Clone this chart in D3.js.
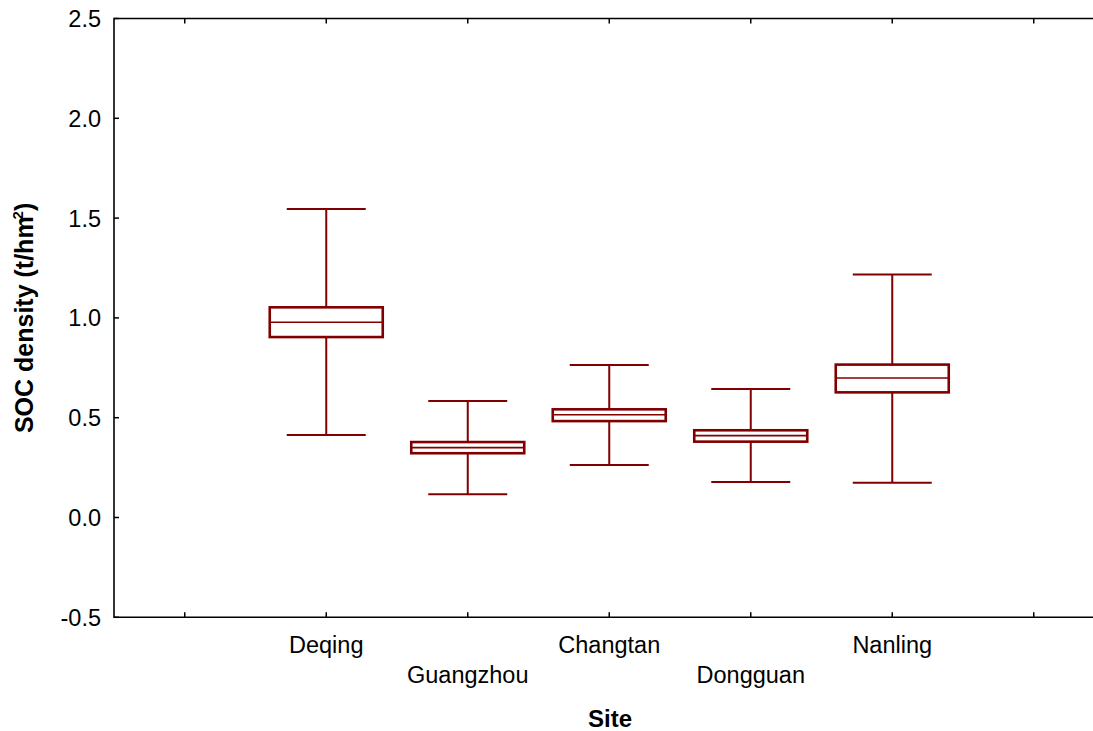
<!DOCTYPE html>
<html>
<head>
<meta charset="utf-8">
<script src="https://cdn.jsdelivr.net/npm/d3@7"></script>
<style>
  body { margin: 0; background: #fff; }
  svg { display: block; font-family: "Liberation Sans", Arial, sans-serif; }
  .box { fill: #fff; stroke: #800000; stroke-width: 2.6; }
  .med { stroke: #800000; stroke-width: 1.6; }
  .whisk { stroke: #800000; stroke-width: 2; }
  .frame { stroke: #000; stroke-width: 1.6; fill: none; }
</style>
</head>
<body>
<div id="chart"></div>
<script>
// per-site summary (SOC density, t/hm2)
var sites   = ['Deqing', 'Guangzhou', 'Changtan', 'Dongguan', 'Nanling'];
var whiskLo = [0.413, 0.116, 0.263, 0.178, 0.174];
var q1      = [0.904, 0.322, 0.483, 0.380, 0.627];
var median  = [0.978, 0.350, 0.515, 0.410, 0.699];
var q3      = [1.053, 0.378, 0.542, 0.437, 0.766];
var whiskHi = [1.546, 0.584, 0.764, 0.644, 1.218];
var yTicks  = [-0.5, 0, 0.5, 1.0, 1.5, 2.0, 2.5];
var xTicks  = [1, 2, 3, 4, 5, 6, 7];

var W = 1093, H = 731,
	L = 114, T = 18.5, B = 617.3;

var svg = d3.select('#chart').append('svg').attr('width', W).attr('height', H);

var x = d3.scaleLinear().domain([0.5, 7.5]).range([L, L + 7 * 141.5]),
	y = d3.scaleLinear().domain([-0.5, 2.5]).range([B, T]);

var data = sites.map(function(s, i){
	return {name: s, pos: i + 2, lo: whiskLo[i], q1: q1[i], med: median[i], q3: q3[i], hi: whiskHi[i]};
});

// frame: left, bottom and top (no right side)
svg.append('path').attr('class', 'frame')
	.attr('d', 'M' + W + ',' + y(2.5) + 'H' + L + 'V' + y(-0.5) + 'H' + W);

// ticks pointing inward
svg.selectAll('.yt').data(yTicks).enter().append('line')
	.attr('x1', L).attr('x2', L + 5)
	.attr('y1', function(d){ return y(d); }).attr('y2', function(d){ return y(d); })
	.attr('stroke', '#000').attr('stroke-width', 1.5);
svg.selectAll('.xtb').data(xTicks).enter().append('line')
	.attr('x1', function(d){ return x(d); }).attr('x2', function(d){ return x(d); })
	.attr('y1', y(-0.5)).attr('y2', y(-0.5) - 5)
	.attr('stroke', '#000').attr('stroke-width', 1.5);
svg.selectAll('.xtt').data(xTicks).enter().append('line')
	.attr('x1', function(d){ return x(d); }).attr('x2', function(d){ return x(d); })
	.attr('y1', y(2.5)).attr('y2', y(2.5) + 5)
	.attr('stroke', '#000').attr('stroke-width', 1.5);

// y tick labels (plain hyphen for the minus sign)
svg.selectAll('.yl').data(yTicks).enter().append('text')
	.attr('x', 101).attr('y', function(d){ return y(d) + 8.5; })
	.attr('text-anchor', 'end').attr('font-size', 23.5)
	.text(function(d){ return d.toFixed(1); });

// x category labels, staggered on two rows
svg.selectAll('.xl').data(data).enter().append('text')
	.attr('x', function(d){ return x(d.pos); })
	.attr('y', function(d, i){ return i % 2 ? 683 : 653; })
	.attr('text-anchor', 'middle').attr('font-size', 23.5)
	.text(function(d){ return d.name; });

// axis titles
svg.append('text').attr('x', 610).attr('y', 727)
	.attr('text-anchor', 'middle').attr('font-size', 24).attr('font-weight', 'bold')
	.text('Site');
var yt = svg.append('text')
	.attr('transform', 'translate(33,' + ((T + B) / 2) + ') rotate(-90)')
	.attr('text-anchor', 'middle').attr('font-size', 25).attr('font-weight', 'bold');
yt.append('tspan').text('SOC density (t/hm');
yt.append('tspan').attr('font-size', 15).attr('dy', -10).attr('dx', -3).text('2');
yt.append('tspan').attr('dy', 10).text(')');

// boxes
var boxW = 113, capW = 79;
var g = svg.append('g').selectAll('g').data(data).enter().append('g');

g.append('line').attr('class', 'whisk')
	.attr('x1', function(d){ return x(d.pos); }).attr('x2', function(d){ return x(d.pos); })
	.attr('y1', function(d){ return y(d.hi); }).attr('y2', function(d){ return y(d.lo); });
g.append('line').attr('class', 'whisk')
	.attr('x1', function(d){ return x(d.pos) - capW / 2; }).attr('x2', function(d){ return x(d.pos) + capW / 2; })
	.attr('y1', function(d){ return y(d.hi); }).attr('y2', function(d){ return y(d.hi); });
g.append('line').attr('class', 'whisk')
	.attr('x1', function(d){ return x(d.pos) - capW / 2; }).attr('x2', function(d){ return x(d.pos) + capW / 2; })
	.attr('y1', function(d){ return y(d.lo); }).attr('y2', function(d){ return y(d.lo); });
g.append('rect').attr('class', 'box')
	.attr('x', function(d){ return x(d.pos) - boxW / 2; })
	.attr('width', boxW)
	.attr('y', function(d){ return y(d.q3); })
	.attr('height', function(d){ return y(d.q1) - y(d.q3); });
g.append('line').attr('class', 'med')
	.attr('x1', function(d){ return x(d.pos) - boxW / 2; }).attr('x2', function(d){ return x(d.pos) + boxW / 2; })
	.attr('y1', function(d){ return y(d.med); }).attr('y2', function(d){ return y(d.med); });
</script>
</body>
</html>
